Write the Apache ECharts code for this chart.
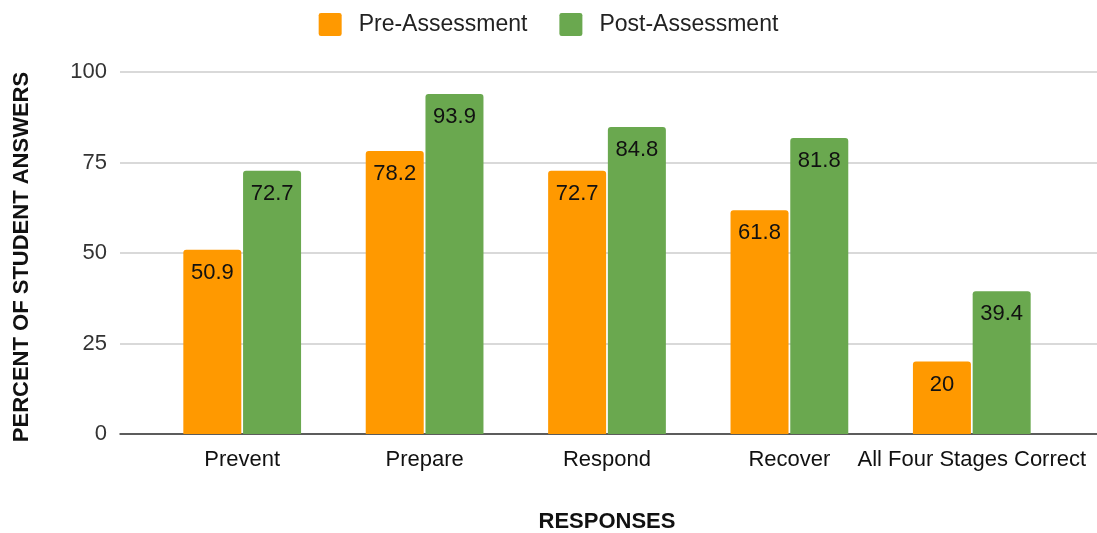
<!DOCTYPE html>
<html><head><meta charset="utf-8">
<script src="https://cdn.jsdelivr.net/npm/echarts@6/dist/echarts.min.js"></script>
<style>html,body{margin:0;padding:0;background:#fff}#c{width:1097px;height:533px}</style>
</head><body><div id="c"></div>
<script>
var categories = ['Prevent', 'Prepare', 'Respond', 'Recover', 'All Four Stages Correct'];
var preAssessment = [50.9, 78.2, 72.7, 61.8, 20];
var postAssessment = [72.7, 93.9, 84.8, 81.8, 39.4];
var yTicks = [0, 25, 50, 75, 100];

var FONT = '"Liberation Sans", Arial, sans-serif';
var chart = echarts.init(document.getElementById('c'));
var lbl = {show: true, position: 'insideTop', distance: 12, color: '#111', fontSize: 22, fontFamily: FONT};
var sq = 'path://M1,0H9A1,1,0,0,1,10,1V9A1,1,0,0,1,9,10H1A1,1,0,0,1,0,9V1A1,1,0,0,1,1,0Z';
chart.setOption({
  animation: false,
  textStyle: {fontFamily: FONT},
  legend: {
    top: 8, left: 'center', itemWidth: 23, itemHeight: 23, itemGap: 32,
    textStyle: {fontSize: 23, color: '#222', fontFamily: FONT, padding: [0, 0, 0, 12]},
    data: [{name: 'Pre-Assessment', icon: sq}, {name: 'Post-Assessment', icon: sq}]
  },
  grid: [
    {left: 120, right: 0, top: 72, bottom: 99, outerBoundsMode: 'none'},
    {left: 151, right: 34, top: 72, bottom: 99, outerBoundsMode: 'none'}
  ],
  xAxis: [
    {gridIndex: 0, type: 'category', data: categories, axisTick: {show: false}, axisLabel: {show: false},
     axisLine: {lineStyle: {color: '#333', width: 1.5}}},
    {gridIndex: 1, type: 'category', data: categories, axisTick: {show: false}, axisLine: {show: false},
     axisLabel: {color: '#111', fontSize: 22, margin: 15, fontFamily: FONT, interval: 0},
     name: 'RESPONSES', nameLocation: 'middle', nameGap: 77,
     nameTextStyle: {fontWeight: 'bold', fontSize: 22, color: '#111', fontFamily: FONT}}
  ],
  yAxis: [
    {gridIndex: 0, type: 'value', min: 0, max: 100, interval: 25,
     axisLabel: {color: '#333', fontSize: 22, margin: 13, fontFamily: FONT,
       formatter: function(v){ return yTicks.indexOf(v) >= 0 ? String(v) : ''; }},
     splitLine: {lineStyle: {color: '#cccccc', width: 1.5}},
     axisLine: {show: false}, axisTick: {show: false},
     name: 'PERCENT OF STUDENT ANSWERS', nameLocation: 'middle', nameGap: 87, nameRotate: 90,
     nameTextStyle: {fontWeight: 'bold', fontSize: 22, color: '#111', fontFamily: FONT, padding: [0, 8, 0, 0]}},
    {gridIndex: 1, type: 'value', min: 0, max: 100, interval: 25, show: false}
  ],
  series: [
    {name: 'Pre-Assessment', type: 'bar', xAxisIndex: 1, yAxisIndex: 1, data: preAssessment,
     barWidth: 58, barGap: '3%', itemStyle: {color: '#FF9900', borderRadius: [3, 3, 0, 0]}, label: lbl},
    {name: 'Post-Assessment', type: 'bar', xAxisIndex: 1, yAxisIndex: 1, data: postAssessment,
     barWidth: 58, barGap: '3%', itemStyle: {color: '#6AA84F', borderRadius: [3, 3, 0, 0]}, label: lbl}
  ]
});
</script></body></html>
